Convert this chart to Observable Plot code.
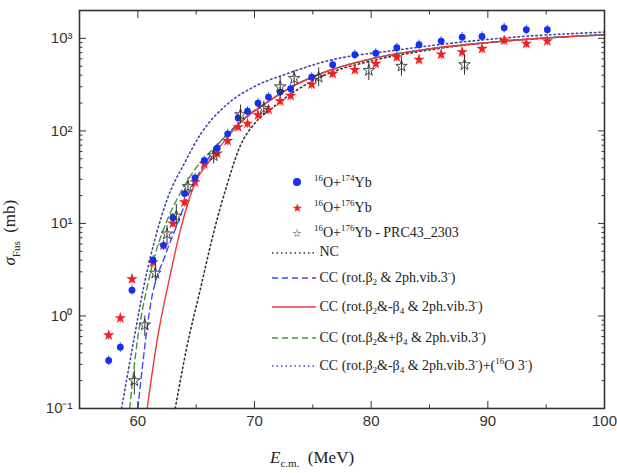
<!DOCTYPE html>
<html><head><meta charset="utf-8">
<script src="https://cdn.jsdelivr.net/npm/d3@7"></script>
<script src="https://cdn.jsdelivr.net/npm/@observablehq/plot@0.6"></script>
<style>
body{margin:0;background:#fff}
#wrap{position:relative;width:617px;height:473px}
.lg{position:absolute;font-family:"Liberation Serif",serif;font-size:14px;color:#222;white-space:nowrap}
.lab{position:absolute;font-family:"Liberation Serif",serif;font-size:17px;color:#222;white-space:nowrap}
</style></head><body>
<div id="wrap"></div>
<script>
// measured data, 16O+174Yb (blue circles)
const eBlue = [57.5,58.5,59.5,61.3,62.2,63.0,64.0,64.9,65.7,66.8,67.7,68.6,69.4,70.3,71.2,72.2,73.1,74.9,76.7,78.6,80.4,82.2,84.1,86.0,87.8,89.5,91.4,93.3,95.1];
const sBlue = [0.33,0.46,1.9,4,5.8,11.5,21,31,48,65,93,138,163,199,232,263,286,380,520,667,690,793,855,935,1030,1050,1300,1240,1240];
// 16O+176Yb (red stars)
const eRed = eBlue;
const sRed = [0.62,0.95,2.5,3.8,5.8,10,17,28,44,57,78,110,120,148,170,210,240,318,415,457,532,628,589,671,710,773,950,877,935];
// PRC43 2303 (open stars)
const ePrc = [59.7,60.6,61.5,62.5,63.3,64.3,66.5,68.8,70.8,72.2,73.4,75.5,79.8,82.6,88.0];
const sPrc = [0.2,0.8,2.9,7.7,12,25,54,150,175,300,370,380,450,500,520];
const loPrc = [0.14,0.6,2.2,6,9,20,44,120,145,235,300,300,350,390,400];
const hiPrc = [0.26,1.0,3.8,9.5,16,31,66,190,210,380,450,480,570,630,660];
// calculations
const eNC = [63.2,64.2,65.4,66.5,67.6,68.8,70,71.6,73.5,76,80,85,90,95,100];
const sNC = [0.1,0.46,2.05,8,25,70,120,180,270,400,570,750,900,1010,1100];
const eCC1 = [60,61.1,62.4,63.5,64.5,65.8,67.2,69,71,73,76,80,85,90,95,100];
const sCC1 = [0.1,1.35,4.7,10.7,23,45,80,130,200,290,430,600,770,900,1010,1090];
const eCC2 = [60.8,61.7,62.7,63.7,65,66,67.5,69,71,73,76,80,85,90,95,100];
const sCC2 = [0.1,0.59,2.5,9,29,45,80,130,200,290,430,600,770,900,1010,1090];
const eCC3 = [59.3,60,60.8,61.5,62.5,63.7,65,66.5,68,69.5,71,73,76,80,85,90,95,100];
const sCC3 = [0.1,0.59,2.05,4.7,10.7,22,40,65,100,150,200,290,430,600,770,900,1010,1090];
const eCC4 = [58.6,59.7,60.5,61.5,62.5,64,65.4,67.7,69.9,72.8,76,82.5,91,100];
const sCC4 = [0.1,0.59,2.05,7,18,45,93,196,297,415,560,755,1000,1170];

const blue = eBlue.map((e,i)=>({e,s:sBlue[i]}));
const red = eRed.map((e,i)=>({e,s:sRed[i]}));
const prc = ePrc.map((e,i)=>({e,s:sPrc[i],lo:loPrc[i],hi:hiPrc[i]}));
const curve = (es,ss)=>es.map((e,i)=>({e,s:ss[i]}));
const yMajor = [0.1,1,10,100,1000];
const supLab = {0.1:"10⁻¹",1:"10⁰",10:"10¹",100:"10²",1000:"10³"};
const yMinor = d3.range(-1,4).flatMap(p=>d3.range(2,10).map(k=>k*10**p)).filter(v=>v<2000);
const xMajor = [60,70,80,90,100], xMinor = [55,65,75,85,95];
const none = () => "";

const chart = Plot.plot({
  width: 617, height: 473,
  marginLeft: 79, marginRight: 13, marginTop: 10, marginBottom: 65,
  x: {domain: [55,100]},
  y: {type: "log", domain: [0.1,2000]},
  style: {fontFamily: "Liberation Sans, Arial, sans-serif", fontSize: 15, color: "#333"},
  marks: [
    Plot.line(curve(eNC,sNC), {x:"e", y:"s", stroke:"#333", strokeWidth:1.6, strokeDasharray:"1.5,3", curve:"monotone-x"}),
    Plot.line(curve(eCC1,sCC1), {x:"e", y:"s", stroke:"#3a4df0", strokeWidth:1.4, strokeDasharray:"6,4", curve:"monotone-x"}),
    Plot.line(curve(eCC3,sCC3), {x:"e", y:"s", stroke:"#3a9a3a", strokeWidth:1.4, strokeDasharray:"6,4", curve:"monotone-x"}),
    Plot.line(curve(eCC4,sCC4), {x:"e", y:"s", stroke:"#4444a8", strokeWidth:1.6, strokeDasharray:"1.5,3", curve:"monotone-x"}),
    Plot.line(curve(eCC2,sCC2), {x:"e", y:"s", stroke:"#f03838", strokeWidth:1.4, curve:"monotone-x"}),
    Plot.ruleX(red, {x:"e", y1:d=>d.s*0.88, y2:d=>d.s*1.12, stroke:"#f06060", strokeWidth:1}),
    Plot.dot(red, {x:"e", y:"s", symbol:"star", r:3.6, fill:"#f02020", stroke:"none"}),
    Plot.ruleX(blue, {x:"e", y1:d=>d.s*0.88, y2:d=>d.s*1.12, stroke:"#4060f0", strokeWidth:1}),
    Plot.dot(blue, {x:"e", y:"s", r:3.4, fill:"#1530f0", stroke:"none"}),
    Plot.ruleX(prc, {x:"e", y1:"lo", y2:"hi", stroke:"#333", strokeWidth:1}),
    Plot.dot(prc, {x:"e", y:"lo", symbol:"times", r:0.01, stroke:"none"}),
    Plot.dot(prc, {x:"e", y:"s", symbol:"star", r:3.6, fill:"none", stroke:"#333", strokeWidth:0.9}),
    Plot.axisY(yMajor, {anchor:"left", tickSize:-7, tickFormat:d=>supLab[d], tickPadding:14, label:null, fontSize:15}),
    Plot.axisY(yMinor, {anchor:"left", tickSize:-3.5, tickFormat:none, label:null}),
    Plot.axisY(yMajor, {anchor:"right", tickSize:-7, tickFormat:none, label:null}),
    Plot.axisY(yMinor, {anchor:"right", tickSize:-3.5, tickFormat:none, label:null}),
    Plot.axisX(xMajor, {anchor:"bottom", tickSize:-7, tickPadding:14, label:null, fontSize:15}),
    Plot.axisX(xMinor, {anchor:"bottom", tickSize:-3.5, tickFormat:none, label:null}),
    Plot.axisX(xMajor, {anchor:"top", tickSize:-7, tickFormat:none, label:null}),
    Plot.axisX(xMinor, {anchor:"top", tickSize:-3.5, tickFormat:none, label:null}),
    Plot.frame({stroke:"#333", strokeWidth:1.6})
  ]
});
const wrap = document.getElementById("wrap");
wrap.append(chart);

// error bar caps for the open stars (small horizontal ticks)
// legend
const rows = [
  {y:182, sym:"<svg width='10' height='10'><circle cx='5' cy='5' r='4' fill='#1530f0'/></svg>", t:"<sup>16</sup>O+<sup>174</sup>Yb"},
  {y:207, sym:"<span style='color:#f02020;font-size:12px'>★</span>", t:"<sup>16</sup>O+<sup>176</sup>Yb"},
  {y:232, sym:"<span style='color:#333;font-size:11px'>☆</span>", t:"<sup>16</sup>O+<sup>176</sup>Yb - PRC43_2303"},
  {y:253, line:["#333","1.5,3"], t:"NC"},
  {y:277, line:["#3a4df0","6,4"], t:"CC (rot.β<sub>2</sub> &amp; 2ph.vib.3<sup>-</sup>)"},
  {y:306, line:["#f03838",""], t:"CC (rot.β<sub>2</sub>&amp;-β<sub>4</sub> &amp; 2ph.vib.3<sup>-</sup>)"},
  {y:337, line:["#3a9a3a","6,4"], t:"CC (rot.β<sub>2</sub>&amp;+β<sub>4</sub> &amp; 2ph.vib.3<sup>-</sup>)"},
  {y:365, line:["#4444a8","1.5,3"], t:"CC (rot.β<sub>2</sub>&amp;-β<sub>4</sub> &amp; 2ph.vib.3<sup>-</sup>)+(<sup>16</sup>O 3<sup>-</sup>)"}
];
for (const r of rows) {
  const s = document.createElement("div");
  s.className = "lg";
  s.style.top = (r.y-9)+"px";
  if (r.line) {
    s.style.left = "272px";
    s.innerHTML = `<svg width='44' height='6' style='vertical-align:middle'><line x1='0' x2='44' y1='3' y2='3' stroke='${r.line[0]}' stroke-width='1.5' stroke-dasharray='${r.line[1]}'/></svg> ${r.t}`;
  } else {
    s.style.left = "292px";
    s.innerHTML = `<span style='display:inline-block;width:22px'>${r.sym}</span>${r.t}`;
  }
  s.querySelectorAll("sup,sub").forEach(e=>{e.style.fontSize="9px"});
  wrap.append(s);
}
const xl = document.createElement("div");
xl.className = "lab"; xl.style.left = "270px"; xl.style.top = "448px";
xl.innerHTML = "<i>E</i><sub style='font-size:11px'>c.m.</sub> &nbsp;(MeV)";
wrap.append(xl);
const yl = document.createElement("div");
yl.className = "lab"; yl.style.left = "-22px"; yl.style.top = "222px";
yl.style.transform = "rotate(-90deg)";
yl.innerHTML = "<i>σ</i><sub style='font-size:11px'>Fus</sub> &nbsp;(mb)";
wrap.append(yl);
</script>
</body></html>
